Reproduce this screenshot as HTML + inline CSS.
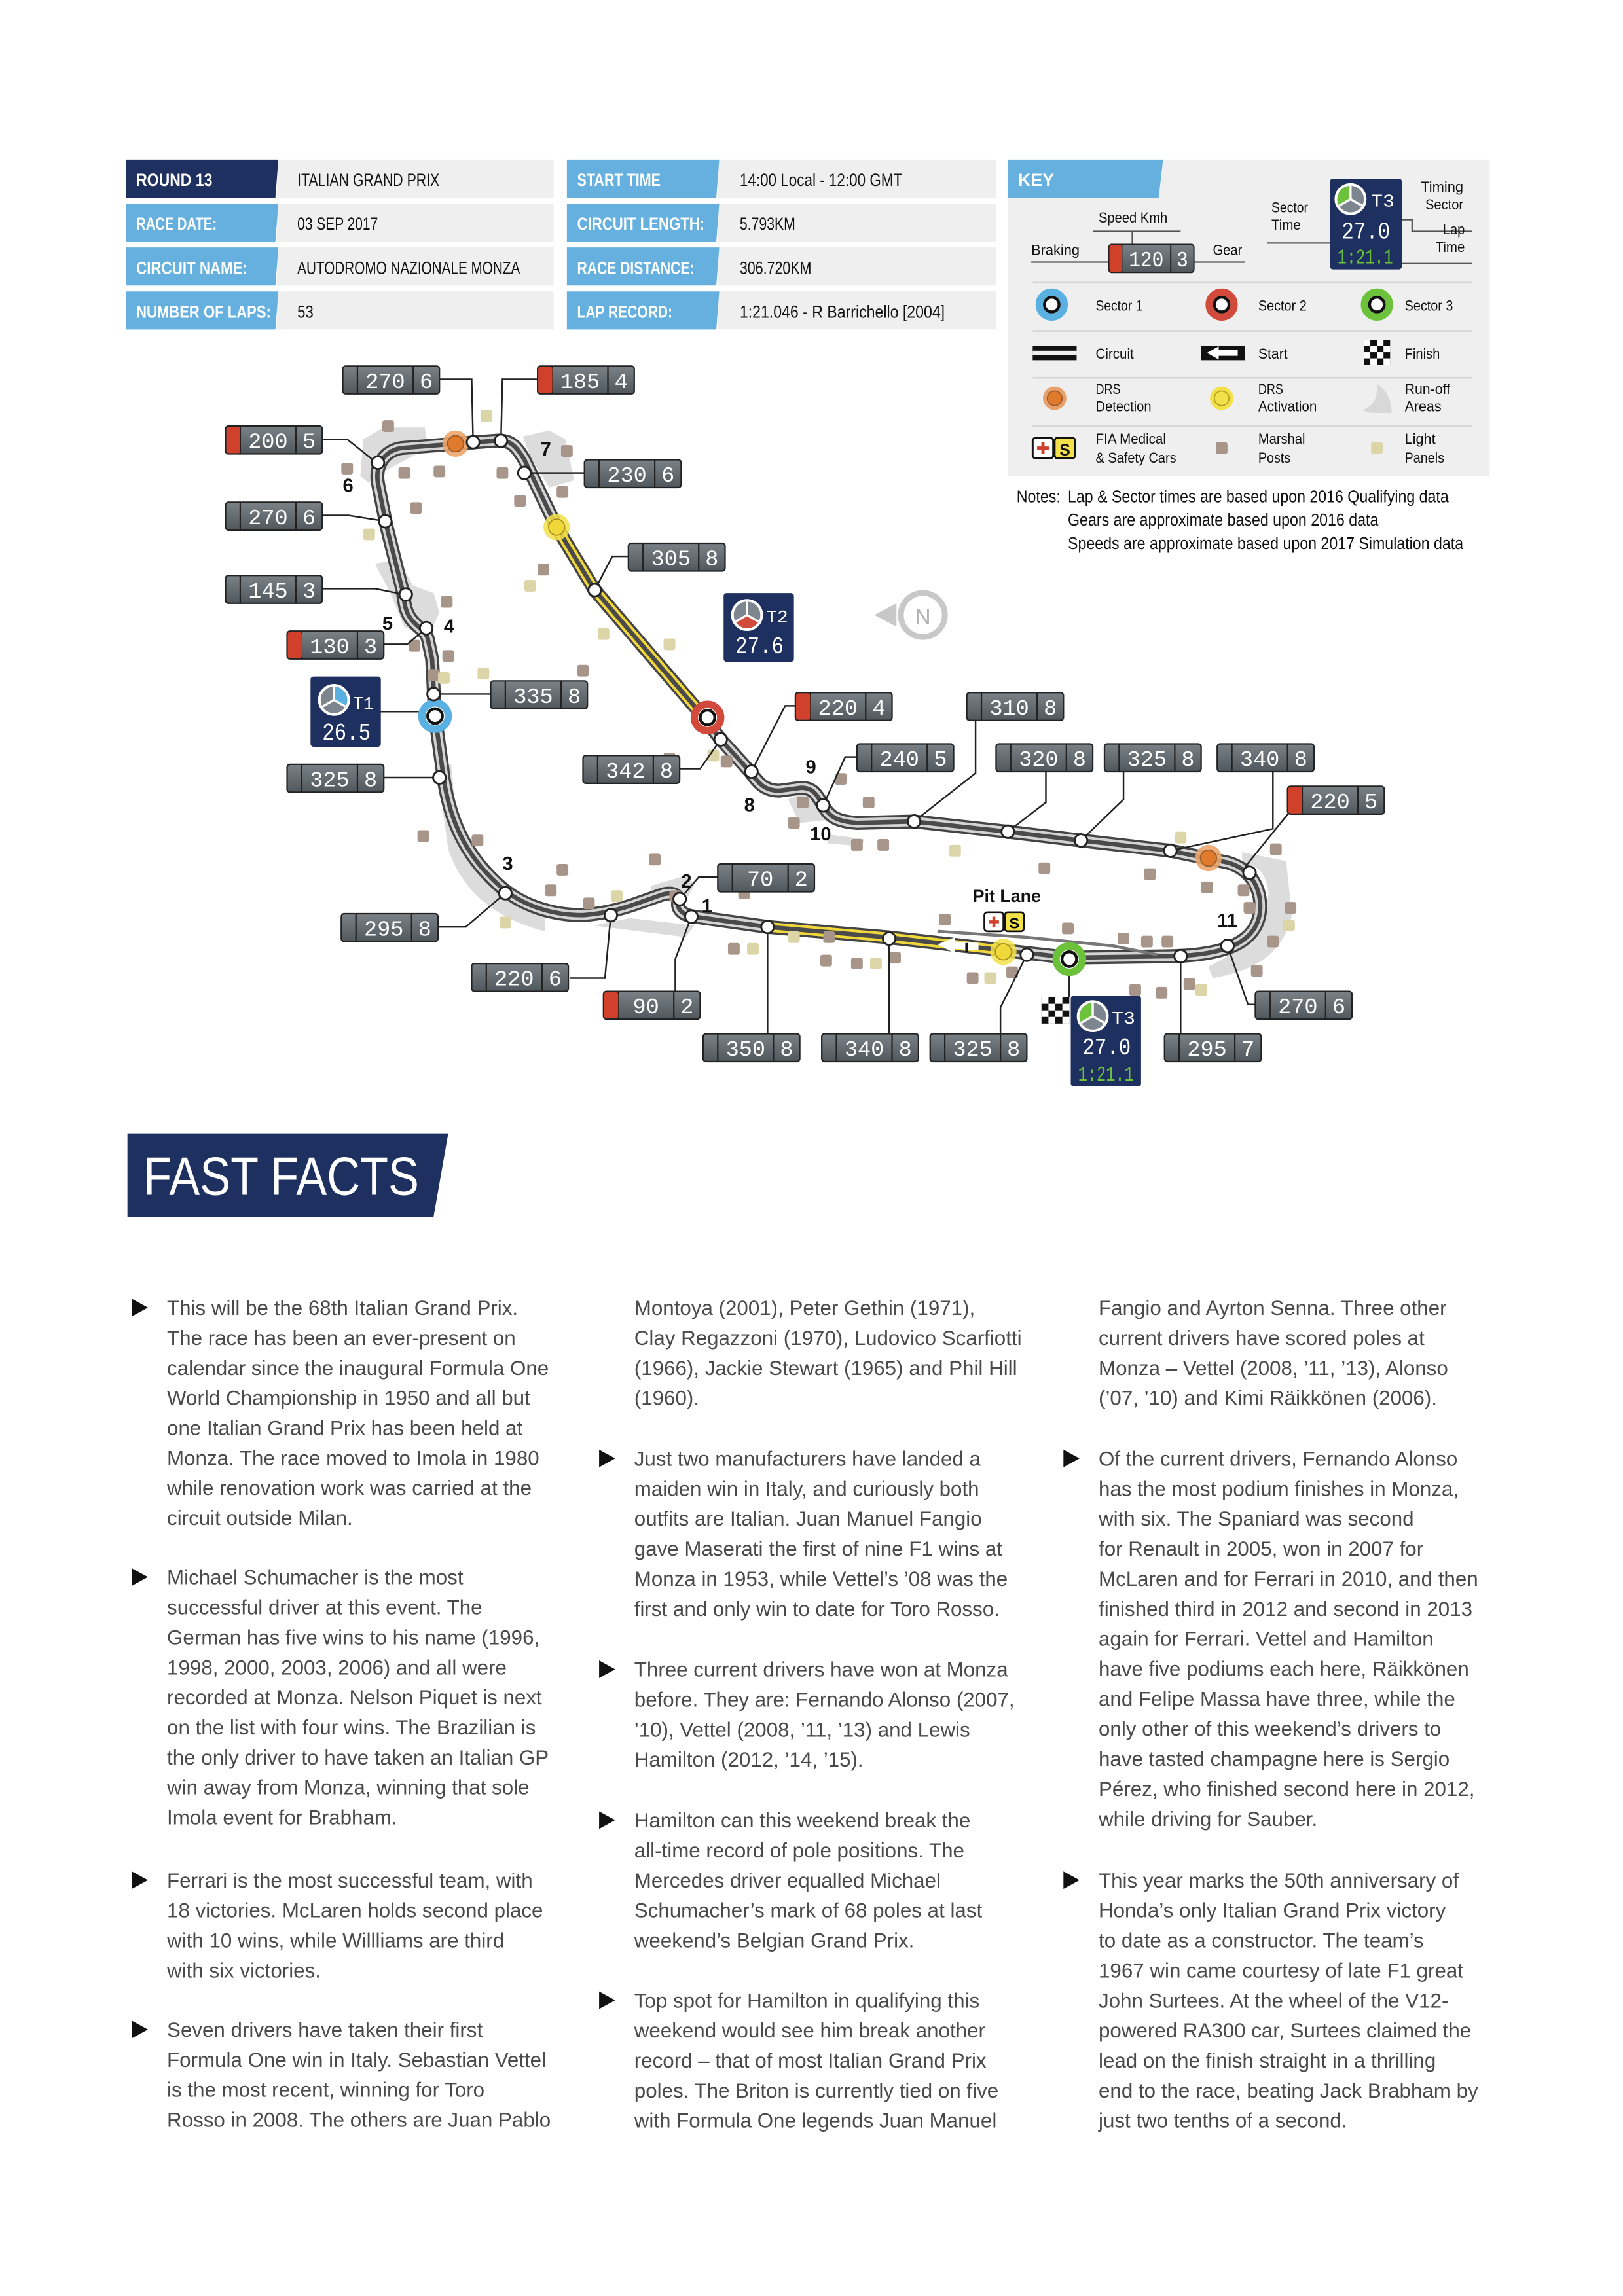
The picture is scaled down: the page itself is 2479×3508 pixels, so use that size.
<!DOCTYPE html>
<html><head><meta charset="utf-8"><style>
html,body{margin:0;padding:0;background:#fff}
svg{display:block}
.c{font-family:"Liberation Sans",sans-serif}
.g{font-family:"Liberation Mono",monospace;fill:#fff;font-size:15px;text-anchor:middle}
.ff{font-family:"Liberation Sans",sans-serif;font-size:14px;fill:#4a4a4a}
.n{font-family:"Liberation Sans",sans-serif;font-weight:bold;font-size:13px;fill:#111}
</style></head><body>
<svg width="2479" height="3508" viewBox="0 0 1108 1568" preserveAspectRatio="none" xmlns="http://www.w3.org/2000/svg" xmlns:xlink="http://www.w3.org/1999/xlink">
<defs>
<linearGradient id="gg" x1="0" y1="0" x2="0" y2="1"><stop offset="0" stop-color="#7a8187"/><stop offset="1" stop-color="#50575d"/></linearGradient>
<g id="gb"><rect x="0" y="0" width="66" height="19" rx="2" fill="url(#gg)" stroke="#222" stroke-width="1"/><line x1="10" y1="0" x2="10" y2="19" stroke="#222"/><line x1="48" y1="0" x2="48" y2="19" stroke="#222"/></g>
<g id="rb"><rect x="0.5" y="0.5" width="9.5" height="18" rx="1.5" fill="#d0402a"/></g>
<g id="mk"><rect x="-4" y="-4" width="8" height="8" rx="1.5" fill="#a8958a"/></g>
<g id="lp"><rect x="-4" y="-4" width="8" height="8" rx="1.5" fill="#dcd5a8"/></g>
<g id="wn"><circle r="4.3" fill="#fff" stroke="#222" stroke-width="1.3"/></g>
</defs>

<!-- HEADER TABLE -->
<g class="c" font-size="12">
<rect x="189" y="109" width="189" height="26" fill="#efefef"/><rect x="189" y="139" width="189" height="26" fill="#efefef"/><rect x="189" y="169" width="189" height="26" fill="#efefef"/><rect x="189" y="199" width="189" height="26" fill="#efefef"/>
<rect x="490" y="109" width="190" height="26" fill="#efefef"/><rect x="490" y="139" width="190" height="26" fill="#efefef"/><rect x="490" y="169" width="190" height="26" fill="#efefef"/><rect x="490" y="199" width="190" height="26" fill="#efefef"/>
<polygon points="86,109 190,109 188,135 86,135" fill="#1e3060"/>
<polygon points="86,139 190,139 188,165 86,165" fill="#65b0de"/>
<polygon points="86,169 190,169 188,195 86,195" fill="#65b0de"/>
<polygon points="86,199 190,199 188,225 86,225" fill="#65b0de"/>
<polygon points="387,109 491,109 489,135 387,135" fill="#65b0de"/>
<polygon points="387,139 491,139 489,165 387,165" fill="#65b0de"/>
<polygon points="387,169 491,169 489,195 387,195" fill="#65b0de"/>
<polygon points="387,199 491,199 489,225 387,225" fill="#65b0de"/>
<g fill="#fff" font-weight="bold">
<text x="93" y="127" textLength="52" lengthAdjust="spacingAndGlyphs">ROUND 13</text><text x="93" y="157" textLength="55" lengthAdjust="spacingAndGlyphs">RACE DATE:</text><text x="93" y="187" textLength="76" lengthAdjust="spacingAndGlyphs">CIRCUIT NAME:</text><text x="93" y="217" textLength="92" lengthAdjust="spacingAndGlyphs">NUMBER OF LAPS:</text>
<text x="394" y="127" textLength="57" lengthAdjust="spacingAndGlyphs">START TIME</text><text x="394" y="157" textLength="87" lengthAdjust="spacingAndGlyphs">CIRCUIT LENGTH:</text><text x="394" y="187" textLength="80" lengthAdjust="spacingAndGlyphs">RACE DISTANCE:</text><text x="394" y="217" textLength="65" lengthAdjust="spacingAndGlyphs">LAP RECORD:</text>
</g>
<g fill="#111">
<text x="203" y="127" textLength="97" lengthAdjust="spacingAndGlyphs">ITALIAN GRAND PRIX</text><text x="203" y="157" textLength="55" lengthAdjust="spacingAndGlyphs">03 SEP 2017</text><text x="203" y="187" textLength="152" lengthAdjust="spacingAndGlyphs">AUTODROMO NAZIONALE MONZA</text><text x="203" y="217" textLength="11" lengthAdjust="spacingAndGlyphs">53</text>
<text x="505" y="127" textLength="111" lengthAdjust="spacingAndGlyphs">14:00 Local - 12:00 GMT</text><text x="505" y="157" textLength="38" lengthAdjust="spacingAndGlyphs">5.793KM</text><text x="505" y="187" textLength="49" lengthAdjust="spacingAndGlyphs">306.720KM</text><text x="505" y="217" textLength="140" lengthAdjust="spacingAndGlyphs">1:21.046 - R Barrichello [2004]</text>
</g>
</g>

<!-- KEY -->
<g class="c" font-size="10" fill="#111">
<rect x="688" y="109" width="329" height="216" fill="#efefef"/>
<polygon points="688,109 794,109 791,135 688,135" fill="#65b0de"/>
<text x="695" y="127" fill="#fff" font-weight="bold" font-size="12">KEY</text>
<text x="750" y="152" textLength="47" lengthAdjust="spacingAndGlyphs">Speed Kmh</text>
<polyline points="746,158 806,158" stroke="#555" fill="none"/><line x1="773" y1="158" x2="773" y2="167" stroke="#555"/>
<text x="704" y="174" textLength="33" lengthAdjust="spacingAndGlyphs">Braking</text><line x1="704" y1="179" x2="757" y2="179" stroke="#555"/>
<text x="828" y="174" textLength="20" lengthAdjust="spacingAndGlyphs">Gear</text><line x1="815" y1="179" x2="850" y2="179" stroke="#555"/>
<g transform="translate(757,167) scale(0.88,1)"><use href="#gb"/><use href="#rb"/><text class="g" x="29" y="15">120</text><text class="g" x="57" y="15">3</text></g>
<text x="868" y="145" textLength="25" lengthAdjust="spacingAndGlyphs">Sector</text><text x="868" y="157" textLength="20" lengthAdjust="spacingAndGlyphs">Time</text><line x1="865" y1="166" x2="908" y2="166" stroke="#555"/>
<rect x="908" y="122" width="49" height="62" rx="2" fill="#1e3060"/>
<g transform="translate(922,136)"><circle r="10" fill="#7d868e" stroke="#fff" stroke-width="1.8"/><path d="M0,0 L0,-9 A9,9 0 0,0 -7.8,4.5 Z" fill="#6cc23a"/><path d="M0,0 L0,-9 M0,0 L7.8,4.5 M0,0 L-7.8,4.5" stroke="#fff" stroke-width="1.5"/></g>
<text x="936" y="141" fill="#fff" font-size="12" font-family="Liberation Mono" textLength="16" lengthAdjust="spacingAndGlyphs">T3</text>
<text x="916" y="163" fill="#fff" font-size="16" font-family="Liberation Mono" textLength="33" lengthAdjust="spacingAndGlyphs">27.0</text>
<text x="913" y="180" fill="#6cc23a" font-size="14" font-family="Liberation Mono" textLength="38" lengthAdjust="spacingAndGlyphs">1:21.1</text>
<text x="970" y="131" textLength="29" lengthAdjust="spacingAndGlyphs">Timing</text><text x="973" y="143" textLength="26" lengthAdjust="spacingAndGlyphs">Sector</text><polyline points="957,150 964,150 964,158 1005,158" stroke="#555" fill="none"/>
<text x="985" y="160" textLength="15" lengthAdjust="spacingAndGlyphs">Lap</text><text x="980" y="172" textLength="20" lengthAdjust="spacingAndGlyphs">Time</text><line x1="957" y1="180" x2="1005" y2="180" stroke="#555"/>
<g stroke="#d6d6d6" stroke-width="1.2"><line x1="705" y1="193" x2="1005" y2="193"/><line x1="705" y1="226" x2="1005" y2="226"/><line x1="705" y1="258" x2="1005" y2="258"/><line x1="705" y1="291" x2="1005" y2="291"/></g>
<circle cx="718" cy="208" r="8.5" fill="#fff" stroke="#5ab0e0" stroke-width="5"/><circle cx="718" cy="208" r="5" fill="#fff" stroke="#111" stroke-width="2"/>
<circle cx="834" cy="208" r="8.5" fill="#fff" stroke="#d24a3c" stroke-width="5"/><circle cx="834" cy="208" r="5" fill="#fff" stroke="#111" stroke-width="2"/>
<circle cx="940" cy="208" r="8.5" fill="#fff" stroke="#6cc23a" stroke-width="5"/><circle cx="940" cy="208" r="5" fill="#fff" stroke="#111" stroke-width="2"/>
<text x="748" y="212" textLength="32" lengthAdjust="spacingAndGlyphs">Sector 1</text><text x="859" y="212" textLength="33" lengthAdjust="spacingAndGlyphs">Sector 2</text><text x="959" y="212" textLength="33" lengthAdjust="spacingAndGlyphs">Sector 3</text>
<rect x="705" y="236" width="30" height="10" fill="#111"/><rect x="705" y="239.5" width="30" height="3" fill="#eee"/>
<rect x="820" y="236" width="30" height="10" fill="#111"/><polygon points="824,241 832,236.5 832,239 845,239 845,243 832,243 832,245.5" fill="#fff"/>
<g><rect x="931" y="232" width="18" height="17" fill="#111"/>
<g fill="#fff"><rect x="931" y="232" width="4.5" height="4.25"/><rect x="940" y="232" width="4.5" height="4.25"/><rect x="935.5" y="236.25" width="4.5" height="4.25"/><rect x="944.5" y="236.25" width="4.5" height="4.25"/><rect x="931" y="240.5" width="4.5" height="4.25"/><rect x="940" y="240.5" width="4.5" height="4.25"/><rect x="935.5" y="244.75" width="4.5" height="4.25"/><rect x="944.5" y="244.75" width="4.5" height="4.25"/></g></g>
<text x="748" y="245" textLength="26" lengthAdjust="spacingAndGlyphs">Circuit</text><text x="859" y="245" textLength="20" lengthAdjust="spacingAndGlyphs">Start</text><text x="959" y="245" textLength="24" lengthAdjust="spacingAndGlyphs">Finish</text>
<circle cx="720" cy="272" r="8" fill="#e7a06a"/><circle cx="720" cy="272" r="5" fill="#e07a2c" stroke="#9a5a2a" stroke-width="0.8"/>
<circle cx="834" cy="272" r="8" fill="#f3e14a"/><circle cx="834" cy="272" r="5" fill="#f3e14a" stroke="#b5a020" stroke-width="0.8"/>
<path d="M935,282 L950,282 C950,272 946,266 940,262 C941,272 937,278 930,280 Z" fill="#d8d8d8"/>
<text x="748" y="269" textLength="17" lengthAdjust="spacingAndGlyphs">DRS</text><text x="748" y="281" textLength="38" lengthAdjust="spacingAndGlyphs">Detection</text>
<text x="859" y="269" textLength="17" lengthAdjust="spacingAndGlyphs">DRS</text><text x="859" y="281" textLength="40" lengthAdjust="spacingAndGlyphs">Activation</text>
<text x="959" y="269" textLength="31" lengthAdjust="spacingAndGlyphs">Run-off</text><text x="959" y="281" textLength="25" lengthAdjust="spacingAndGlyphs">Areas</text>
<rect x="705" y="299" width="14" height="14" rx="2" fill="#fff" stroke="#111" stroke-width="1.3"/><path d="M712,302 v8 M708,306 h8" stroke="#d0402a" stroke-width="2.2"/>
<rect x="720" y="299" width="14" height="14" rx="2" fill="#f3e14a" stroke="#111" stroke-width="1.3"/><text x="727" y="311" text-anchor="middle" font-weight="bold" font-size="11">S</text>
<use href="#mk" x="834" y="306"/><use href="#lp" x="940" y="306"/>
<text x="748" y="303" textLength="48" lengthAdjust="spacingAndGlyphs">FIA Medical</text><text x="748" y="316" textLength="55" lengthAdjust="spacingAndGlyphs">&amp; Safety Cars</text>
<text x="859" y="303" textLength="32" lengthAdjust="spacingAndGlyphs">Marshal</text><text x="859" y="316" textLength="22" lengthAdjust="spacingAndGlyphs">Posts</text>
<text x="959" y="303" textLength="21" lengthAdjust="spacingAndGlyphs">Light</text><text x="959" y="316" textLength="27" lengthAdjust="spacingAndGlyphs">Panels</text>
<g font-size="11.5"><text x="694" y="343" textLength="30" lengthAdjust="spacingAndGlyphs">Notes:</text><text x="729" y="343" textLength="260" lengthAdjust="spacingAndGlyphs">Lap &amp; Sector times are based upon 2016 Qualifying data</text>
<text x="729" y="359" textLength="212" lengthAdjust="spacingAndGlyphs">Gears are approximate based upon 2016 data</text><text x="729" y="375" textLength="270" lengthAdjust="spacingAndGlyphs">Speeds are approximate based upon 2017 Simulation data</text></g>
</g>

<!-- RUN-OFF AREAS -->
<g fill="#dcdcdc">
<polygon points="248,300 262,292 290,292 292,306 262,322 252,330 246,325"/>
<polygon points="357,298 375,294 386,300 392,328 375,333 362,312"/>
<polygon points="256,385 272,382 282,400 296,405 300,418 292,436 276,428 266,404"/>
<path d="M298,522 L306,580 C316,610 340,628 372,636 L372,624 C345,612 326,596 312,565 L308,522 Z"/>
<polygon points="444,605 468,598 474,604 470,612 446,615"/>
<polygon points="405,632 468,640 474,632 430,627"/>
<polygon points="538,546 552,540 560,543 565,560 546,562"/>
<polygon points="566,570 590,573 588,578 565,576"/>
<path d="M848,582 L878,588 L882,625 C876,650 860,662 828,668 L825,660 C850,648 864,635 866,610 C864,595 858,590 848,590 Z"/>
</g>

<!-- TRACK -->
<path d="M800,653 L730,654 L685,649 L605,640 L524,633 L474,626 C466,625 462,621 463,616 C464,611 459,609 452,611 L432,618 C420,622 410,624 398,625 C378,625 356,619 340,604 C318,584 306,560 302,525 L297,489 L295,450 L292,436 C290,430 284,428 280,422 C276,416 276,410 275,404 L264,360 L258,330 C256,318 262,308 274,306 L312,303 L338,301 C348,300 352,304 358,314 L380,360 L406,403 L479,488 L492,505 L512,527 C518,535 522,540 532,540 L547,538 C556,538 558,544 562,550 C566,558 572,561 585,562 L624,561 L688,568 L738,574 L799,581 L838,589 C856,594 862,610 860,624 C857,642 840,652 800,653 Z" fill="none" stroke="#444" stroke-width="9.5" stroke-linejoin="round"/>
<path d="M800,653 L730,654 L685,649 L605,640 L524,633 L474,626 C466,625 462,621 463,616 C464,611 459,609 452,611 L432,618 C420,622 410,624 398,625 C378,625 356,619 340,604 C318,584 306,560 302,525 L297,489 L295,450 L292,436 C290,430 284,428 280,422 C276,416 276,410 275,404 L264,360 L258,330 C256,318 262,308 274,306 L312,303 L338,301 C348,300 352,304 358,314 L380,360 L406,403 L479,488 L492,505 L512,527 C518,535 522,540 532,540 L547,538 C556,538 558,544 562,550 C566,558 572,561 585,562 L624,561 L688,568 L738,574 L799,581 L838,589 C856,594 862,610 860,624 C857,642 840,652 800,653 Z" fill="none" stroke="#d4d4d4" stroke-width="6.5" stroke-linejoin="round"/>
<polyline points="380,360 406,403 479,488" fill="none" stroke="#f0d83a" stroke-width="6.5"/>
<polyline points="524,633 605,640 685,649" fill="none" stroke="#f0d83a" stroke-width="6.5"/>
<path d="M800,653 L730,654 L685,649 L605,640 L524,633 L474,626 C466,625 462,621 463,616 C464,611 459,609 452,611 L432,618 C420,622 410,624 398,625 C378,625 356,619 340,604 C318,584 306,560 302,525 L297,489 L295,450 L292,436 C290,430 284,428 280,422 C276,416 276,410 275,404 L264,360 L258,330 C256,318 262,308 274,306 L312,303 L338,301 C348,300 352,304 358,314 L380,360 L406,403 L479,488 L492,505 L512,527 C518,535 522,540 532,540 L547,538 C556,538 558,544 562,550 C566,558 572,561 585,562 L624,561 L688,568 L738,574 L799,581 L838,589 C856,594 862,610 860,624 C857,642 840,652 800,653 Z" fill="none" stroke="#4a4a4a" stroke-width="3" stroke-linejoin="round"/>
<polyline points="640,636 700,640 760,646 790,652" fill="none" stroke="#777" stroke-width="2"/>
<polygon points="640,645 652,640 652,643 668,644 668,649 652,648 652,651" fill="#fff"/>
<rect x="659" y="644" width="2" height="6" fill="#111"/>

<!-- marshal posts -->
<g>
<use href="#mk" x="265" y="291"/><use href="#mk" x="237" y="320"/><use href="#mk" x="276" y="323"/><use href="#mk" x="300" y="322"/><use href="#mk" x="343" y="323"/><use href="#mk" x="387" y="308"/><use href="#mk" x="284" y="347"/><use href="#mk" x="355" y="342"/><use href="#mk" x="384" y="336"/><use href="#mk" x="305" y="411"/><use href="#mk" x="283" y="441"/><use href="#mk" x="306" y="448"/><use href="#mk" x="296" y="461"/><use href="#mk" x="371" y="389"/><use href="#mk" x="398" y="458"/><use href="#mk" x="289" y="571"/><use href="#mk" x="326" y="574"/><use href="#mk" x="376" y="608"/><use href="#mk" x="384" y="594"/><use href="#mk" x="402" y="617"/><use href="#mk" x="461" y="612"/><use href="#mk" x="508" y="610"/><use href="#mk" x="447" y="587"/><use href="#mk" x="501" y="648"/><use href="#mk" x="564" y="656"/><use href="#mk" x="585" y="658"/><use href="#mk" x="645" y="628"/><use href="#mk" x="729" y="634"/><use href="#mk" x="767" y="641"/><use href="#mk" x="783" y="643"/><use href="#mk" x="797" y="643"/><use href="#mk" x="664" y="668"/><use href="#mk" x="691" y="664"/><use href="#mk" x="775" y="676"/><use href="#mk" x="793" y="678"/><use href="#mk" x="812" y="672"/><use href="#mk" x="871" y="580"/><use href="#mk" x="849" y="608"/><use href="#mk" x="853" y="620"/><use href="#mk" x="881" y="620"/><use href="#mk" x="869" y="643"/><use href="#mk" x="858" y="663"/><use href="#mk" x="548" y="548"/><use href="#mk" x="574" y="532"/><use href="#mk" x="593" y="548"/><use href="#mk" x="542" y="562"/><use href="#mk" x="585" y="577"/><use href="#mk" x="603" y="577"/><use href="#mk" x="713" y="593"/><use href="#mk" x="785" y="597"/><use href="#mk" x="824" y="606"/><use href="#mk" x="496" y="520"/><use href="#mk" x="457" y="518"/><use href="#mk" x="566" y="640"/><use href="#mk" x="611" y="654"/>
</g>
<g>
<use href="#lp" x="332" y="284"/><use href="#lp" x="252" y="365"/><use href="#lp" x="362" y="400"/><use href="#lp" x="412" y="433"/><use href="#lp" x="303" y="463"/><use href="#lp" x="345" y="630"/><use href="#lp" x="421" y="612"/><use href="#lp" x="514" y="648"/><use href="#lp" x="542" y="640"/><use href="#lp" x="652" y="581"/><use href="#lp" x="806" y="572"/><use href="#lp" x="880" y="632"/><use href="#lp" x="598" y="658"/><use href="#lp" x="676" y="668"/><use href="#lp" x="820" y="676"/><use href="#lp" x="457" y="440"/><use href="#lp" x="487" y="516"/><use href="#lp" x="330" y="460"/>
</g>

<!-- connectors -->
<g fill="none" stroke="#222" stroke-width="1.1">
<polyline points="300,259 322,259 323,302"/>
<polyline points="367,259 343,259 342,301"/>
<polyline points="220,300 237,300 257,316"/>
<polyline points="399,323 358,323"/>
<polyline points="220,352 238,352 263,356"/>
<polyline points="220,402 256,402 276,406"/>
<polyline points="262,440 278,440 291,429"/>
<polyline points="335,474 296,474"/>
<polyline points="259,486 296,486"/>
<polyline points="262,531 300,531"/>
<polyline points="429,380 418,380 406,403"/>
<polyline points="398,525 478,525 492,505"/>
<polyline points="543,482 536,482 513,527"/>
<polyline points="585,517 577,517 562,550"/>
<polyline points="666,492 666,528 624,561"/>
<polyline points="714,527 714,548 688,568"/>
<polyline points="767,527 767,546 738,574"/>
<polyline points="869,527 869,566 799,581"/>
<polyline points="880,555 850,592"/>
<polyline points="857,686 852,686 838,646"/>
<polyline points="806,706 806,653"/>
<polyline points="730,681 730,655"/>
<polyline points="683,706 683,688 701,652"/>
<polyline points="607,706 607,640"/>
<polyline points="524,706 524,633"/>
<polyline points="461,677 461,655 472,626"/>
<polyline points="490,599 477,599 465,613"/>
<polyline points="389,668 413,668 417,625"/>
<polyline points="299,633 318,633 345,610"/>
</g>

<!-- special circles -->
<circle cx="311" cy="303" r="9" fill="#eba56b" opacity="0.9"/><circle cx="311" cy="303" r="5.5" fill="#e07a2c" stroke="#9a5a2a" stroke-width="0.8"/>
<circle cx="380" cy="360" r="9" fill="#f3e14a" opacity="0.85"/><circle cx="380" cy="360" r="5.5" fill="#f0d83a" stroke="#a89018" stroke-width="0.8"/>
<circle cx="825" cy="586" r="9" fill="#eba56b" opacity="0.9"/><circle cx="825" cy="586" r="5.5" fill="#e07a2c" stroke="#9a5a2a" stroke-width="0.8"/>
<circle cx="685" cy="650" r="9" fill="#f3e14a" opacity="0.85"/><circle cx="685" cy="650" r="5.5" fill="#f0d83a" stroke="#a89018" stroke-width="0.8"/>
<circle cx="297" cy="489" r="9" fill="#fff" stroke="#5ab0e0" stroke-width="5"/><circle cx="297" cy="489" r="5" fill="#fff" stroke="#111" stroke-width="2"/>
<circle cx="483" cy="490" r="9" fill="#fff" stroke="#d24a3c" stroke-width="5"/><circle cx="483" cy="490" r="5" fill="#fff" stroke="#111" stroke-width="2"/>
<circle cx="730" cy="655" r="9" fill="#fff" stroke="#6cc23a" stroke-width="5"/><circle cx="730" cy="655" r="5" fill="#fff" stroke="#111" stroke-width="2"/>

<!-- white nodes -->
<g>
<use href="#wn" x="323" y="302"/><use href="#wn" x="342" y="301"/><use href="#wn" x="258" y="316"/><use href="#wn" x="358" y="323"/><use href="#wn" x="263" y="356"/><use href="#wn" x="277" y="406"/><use href="#wn" x="291" y="429"/><use href="#wn" x="296" y="474"/><use href="#wn" x="300" y="531"/><use href="#wn" x="406" y="403"/><use href="#wn" x="492" y="505"/><use href="#wn" x="513" y="527"/><use href="#wn" x="562" y="550"/><use href="#wn" x="624" y="561"/><use href="#wn" x="688" y="568"/><use href="#wn" x="738" y="574"/><use href="#wn" x="799" y="581"/><use href="#wn" x="853" y="596"/><use href="#wn" x="838" y="646"/><use href="#wn" x="806" y="653"/><use href="#wn" x="701" y="652"/><use href="#wn" x="607" y="641"/><use href="#wn" x="524" y="633"/><use href="#wn" x="472" y="626"/><use href="#wn" x="464" y="614"/><use href="#wn" x="417" y="625"/><use href="#wn" x="345" y="610"/>
</g>

<!-- corner numbers -->
<g class="n"><text x="234" y="336">6</text><text x="369" y="311">7</text><text x="261" y="430">5</text><text x="303" y="432">4</text><text x="343" y="594">3</text><text x="465" y="606">2</text><text x="479" y="623">1</text><text x="508" y="554">8</text><text x="550" y="528">9</text><text x="553" y="574">10</text><text x="831" y="633">11</text>
<text x="664" y="616" font-size="12">Pit Lane</text></g>
<rect x="672" y="623" width="13" height="13" rx="2" fill="#fff" stroke="#111" stroke-width="1.2"/><path d="M678.5,626 v7 M675,629.5 h7" stroke="#d0402a" stroke-width="2"/>
<rect x="686" y="623" width="13" height="13" rx="2" fill="#f3e14a" stroke="#111" stroke-width="1.2"/><text x="692.5" y="634" text-anchor="middle" font-family="Liberation Sans" font-weight="bold" font-size="10.5">S</text>

<!-- compass -->
<g transform="translate(630,420)"><circle r="15" fill="#fff" stroke="#c8c8c8" stroke-width="4"/><text x="0" y="6" text-anchor="middle" font-family="Liberation Sans" font-size="15" fill="#b0b0b0">N</text><polygon points="-33,0 -18,-8 -18,8" fill="#c8c8c8"/></g>

<!-- timing boxes -->
<g>
<rect x="212" y="462" width="48" height="48" rx="2" fill="#1e3060"/>
<g transform="translate(228,478)"><circle r="10" fill="#7d868e" stroke="#fff" stroke-width="1.8"/><path d="M0,0 L0,-9 A9,9 0 0,1 7.8,4.5 Z" fill="#5ab0e0"/><path d="M0,0 L0,-9 M0,0 L7.8,4.5 M0,0 L-7.8,4.5" stroke="#fff" stroke-width="1.5"/></g>
<text x="241" y="484" fill="#fff" font-size="12" font-family="Liberation Mono" textLength="14" lengthAdjust="spacingAndGlyphs">T1</text>
<text x="220" y="505" fill="#fff" font-size="16" font-family="Liberation Mono" textLength="33" lengthAdjust="spacingAndGlyphs">26.5</text>

<rect x="494" y="405" width="48" height="47" rx="2" fill="#1e3060"/>
<g transform="translate(510,420)"><circle r="10" fill="#7d868e" stroke="#fff" stroke-width="1.8"/><path d="M0,0 L7.8,4.5 A9,9 0 0,1 -7.8,4.5 Z" fill="#d24a3c"/><path d="M0,0 L0,-9 M0,0 L7.8,4.5 M0,0 L-7.8,4.5" stroke="#fff" stroke-width="1.5"/></g>
<text x="523" y="425" fill="#fff" font-size="12" font-family="Liberation Mono" textLength="15" lengthAdjust="spacingAndGlyphs">T2</text>
<text x="502" y="446" fill="#fff" font-size="16" font-family="Liberation Mono" textLength="33" lengthAdjust="spacingAndGlyphs">27.6</text>

<rect x="731" y="680" width="48" height="62" rx="2" fill="#1e3060"/>
<g transform="translate(746,694)"><circle r="10" fill="#7d868e" stroke="#fff" stroke-width="1.8"/><path d="M0,0 L0,-9 A9,9 0 0,0 -7.8,4.5 Z" fill="#6cc23a"/><path d="M0,0 L0,-9 M0,0 L7.8,4.5 M0,0 L-7.8,4.5" stroke="#fff" stroke-width="1.5"/></g>
<text x="759" y="699" fill="#fff" font-size="12" font-family="Liberation Mono" textLength="16" lengthAdjust="spacingAndGlyphs">T3</text>
<text x="739" y="720" fill="#fff" font-size="16" font-family="Liberation Mono" textLength="33" lengthAdjust="spacingAndGlyphs">27.0</text>
<text x="736" y="738" fill="#6cc23a" font-size="14" font-family="Liberation Mono" textLength="38" lengthAdjust="spacingAndGlyphs">1:21.1</text>
<rect x="711" y="681" width="19" height="18" fill="#111"/>
<g fill="#fff"><rect x="711" y="681" width="4.75" height="4.5"/><rect x="720.5" y="681" width="4.75" height="4.5"/><rect x="715.75" y="685.5" width="4.75" height="4.5"/><rect x="725.25" y="685.5" width="4.75" height="4.5"/><rect x="711" y="690" width="4.75" height="4.5"/><rect x="720.5" y="690" width="4.75" height="4.5"/><rect x="715.75" y="694.5" width="4.75" height="4.5"/><rect x="725.25" y="694.5" width="4.75" height="4.5"/></g>
</g>

<!-- gauges -->
<g>
<g transform="translate(234,250)"><use href="#gb"/><text class="g" x="29" y="15">270</text><text class="g" x="57" y="15">6</text></g>
<g transform="translate(367,250)"><use href="#gb"/><use href="#rb"/><text class="g" x="29" y="15">185</text><text class="g" x="57" y="15">4</text></g>
<g transform="translate(154,291)"><use href="#gb"/><use href="#rb"/><text class="g" x="29" y="15">200</text><text class="g" x="57" y="15">5</text></g>
<g transform="translate(399,314)"><use href="#gb"/><text class="g" x="29" y="15">230</text><text class="g" x="57" y="15">6</text></g>
<g transform="translate(154,343)"><use href="#gb"/><text class="g" x="29" y="15">270</text><text class="g" x="57" y="15">6</text></g>
<g transform="translate(429,371)"><use href="#gb"/><text class="g" x="29" y="15">305</text><text class="g" x="57" y="15">8</text></g>
<g transform="translate(154,393)"><use href="#gb"/><text class="g" x="29" y="15">145</text><text class="g" x="57" y="15">3</text></g>
<g transform="translate(196,431)"><use href="#gb"/><use href="#rb"/><text class="g" x="29" y="15">130</text><text class="g" x="57" y="15">3</text></g>
<g transform="translate(335,465)"><use href="#gb"/><text class="g" x="29" y="15">335</text><text class="g" x="57" y="15">8</text></g>
<g transform="translate(196,522)"><use href="#gb"/><text class="g" x="29" y="15">325</text><text class="g" x="57" y="15">8</text></g>
<g transform="translate(398,516)"><use href="#gb"/><text class="g" x="29" y="15">342</text><text class="g" x="57" y="15">8</text></g>
<g transform="translate(543,473)"><use href="#gb"/><use href="#rb"/><text class="g" x="29" y="15">220</text><text class="g" x="57" y="15">4</text></g>
<g transform="translate(660,473)"><use href="#gb"/><text class="g" x="29" y="15">310</text><text class="g" x="57" y="15">8</text></g>
<g transform="translate(585,508)"><use href="#gb"/><text class="g" x="29" y="15">240</text><text class="g" x="57" y="15">5</text></g>
<g transform="translate(680,508)"><use href="#gb"/><text class="g" x="29" y="15">320</text><text class="g" x="57" y="15">8</text></g>
<g transform="translate(754,508)"><use href="#gb"/><text class="g" x="29" y="15">325</text><text class="g" x="57" y="15">8</text></g>
<g transform="translate(831,508)"><use href="#gb"/><text class="g" x="29" y="15">340</text><text class="g" x="57" y="15">8</text></g>
<g transform="translate(879,537)"><use href="#gb"/><use href="#rb"/><text class="g" x="29" y="15">220</text><text class="g" x="57" y="15">5</text></g>
<g transform="translate(233,624)"><use href="#gb"/><text class="g" x="29" y="15">295</text><text class="g" x="57" y="15">8</text></g>
<g transform="translate(322,658)"><use href="#gb"/><text class="g" x="29" y="15">220</text><text class="g" x="57" y="15">6</text></g>
<g transform="translate(490,590)"><use href="#gb"/><text class="g" x="29" y="15">70</text><text class="g" x="57" y="15">2</text></g>
<g transform="translate(412,677)"><use href="#gb"/><use href="#rb"/><text class="g" x="29" y="15">90</text><text class="g" x="57" y="15">2</text></g>
<g transform="translate(480,706)"><use href="#gb"/><text class="g" x="29" y="15">350</text><text class="g" x="57" y="15">8</text></g>
<g transform="translate(561,706)"><use href="#gb"/><text class="g" x="29" y="15">340</text><text class="g" x="57" y="15">8</text></g>
<g transform="translate(635,706)"><use href="#gb"/><text class="g" x="29" y="15">325</text><text class="g" x="57" y="15">8</text></g>
<g transform="translate(857,677)"><use href="#gb"/><text class="g" x="29" y="15">270</text><text class="g" x="57" y="15">6</text></g>
<g transform="translate(795,706)"><use href="#gb"/><text class="g" x="29" y="15">295</text><text class="g" x="57" y="15">7</text></g>
</g>

<!-- FAST FACTS -->
<polygon points="87,774 306,774 296,831 87,831" fill="#1e3060"/>
<text x="98" y="816" fill="#fff" font-family="Liberation Sans" font-size="37" textLength="188" lengthAdjust="spacingAndGlyphs">FAST FACTS</text>

<g class="ff">
<polygon points="90,887 101,893 90,899" fill="#111"/>
<polygon points="90,1071 101,1077 90,1083" fill="#111"/>
<polygon points="90,1278 101,1284 90,1290" fill="#111"/>
<polygon points="90,1380 101,1386 90,1392" fill="#111"/>
<polygon points="409,990 420,996 409,1002" fill="#111"/>
<polygon points="409,1134 420,1140 409,1146" fill="#111"/>
<polygon points="409,1237 420,1243 409,1249" fill="#111"/>
<polygon points="409,1360 420,1366 409,1372" fill="#111"/>
<polygon points="726,990 737,996 726,1002" fill="#111"/>
<polygon points="726,1278 737,1284 726,1290" fill="#111"/>

<text x="114" y="898">This will be the 68th Italian Grand Prix.</text>
<text x="114" y="918.5">The race has been an ever-present on</text>
<text x="114" y="939">calendar since the inaugural Formula One</text>
<text x="114" y="959.5">World Championship in 1950 and all but</text>
<text x="114" y="980">one Italian Grand Prix has been held at</text>
<text x="114" y="1000.5">Monza. The race moved to Imola in 1980</text>
<text x="114" y="1021">while renovation work was carried at the</text>
<text x="114" y="1041.5">circuit outside Milan.</text>
<text x="114" y="1082">Michael Schumacher is the most</text>
<text x="114" y="1102.5">successful driver at this event. The</text>
<text x="114" y="1123">German has five wins to his name (1996,</text>
<text x="114" y="1143.5">1998, 2000, 2003, 2006) and all were</text>
<text x="114" y="1164">recorded at Monza. Nelson Piquet is next</text>
<text x="114" y="1184.5">on the list with four wins. The Brazilian is</text>
<text x="114" y="1205">the only driver to have taken an Italian GP</text>
<text x="114" y="1225.5">win away from Monza, winning that sole</text>
<text x="114" y="1246">Imola event for Brabham.</text>
<text x="114" y="1289">Ferrari is the most successful team, with</text>
<text x="114" y="1309.5">18 victories. McLaren holds second place</text>
<text x="114" y="1330">with 10 wins, while Willliams are third</text>
<text x="114" y="1350.5">with six victories.</text>
<text x="114" y="1391">Seven drivers have taken their first</text>
<text x="114" y="1411.5">Formula One win in Italy. Sebastian Vettel</text>
<text x="114" y="1432">is the most recent, winning for Toro</text>
<text x="114" y="1452.5">Rosso in 2008. The others are Juan Pablo</text>

<text x="433" y="898">Montoya (2001), Peter Gethin (1971),</text>
<text x="433" y="918.5">Clay Regazzoni (1970), Ludovico Scarfiotti</text>
<text x="433" y="939">(1966), Jackie Stewart (1965) and Phil Hill</text>
<text x="433" y="959.5">(1960).</text>
<text x="433" y="1001">Just two manufacturers have landed a</text>
<text x="433" y="1021.5">maiden win in Italy, and curiously both</text>
<text x="433" y="1042">outfits are Italian. Juan Manuel Fangio</text>
<text x="433" y="1062.5">gave Maserati the first of nine F1 wins at</text>
<text x="433" y="1083">Monza in 1953, while Vettel’s ’08 was the</text>
<text x="433" y="1103.5">first and only win to date for Toro Rosso.</text>
<text x="433" y="1145">Three current drivers have won at Monza</text>
<text x="433" y="1165.5">before. They are: Fernando Alonso (2007,</text>
<text x="433" y="1186">’10), Vettel (2008, ’11, ’13) and Lewis</text>
<text x="433" y="1206.5">Hamilton (2012, ’14, ’15).</text>
<text x="433" y="1248">Hamilton can this weekend break the</text>
<text x="433" y="1268.5">all-time record of pole positions. The</text>
<text x="433" y="1289">Mercedes driver equalled Michael</text>
<text x="433" y="1309.5">Schumacher’s mark of 68 poles at last</text>
<text x="433" y="1330">weekend’s Belgian Grand Prix.</text>
<text x="433" y="1371">Top spot for Hamilton in qualifying this</text>
<text x="433" y="1391.5">weekend would see him break another</text>
<text x="433" y="1412">record – that of most Italian Grand Prix</text>
<text x="433" y="1432.5">poles. The Briton is currently tied on five</text>
<text x="433" y="1453">with Formula One legends Juan Manuel</text>

<text x="750" y="898">Fangio and Ayrton Senna.  Three other</text>
<text x="750" y="918.5">current drivers have scored poles at</text>
<text x="750" y="939">Monza  – Vettel (2008, ’11, ’13), Alonso</text>
<text x="750" y="959.5">(’07, ’10) and Kimi Räikkönen (2006).</text>
<text x="750" y="1001">Of the current drivers, Fernando Alonso</text>
<text x="750" y="1021.5">has the most podium finishes in Monza,</text>
<text x="750" y="1042">with six. The Spaniard was second</text>
<text x="750" y="1062.5">for Renault in 2005, won in 2007 for</text>
<text x="750" y="1083">McLaren and for Ferrari in 2010, and then</text>
<text x="750" y="1103.5">finished third in 2012 and second in 2013</text>
<text x="750" y="1124">again for Ferrari. Vettel and Hamilton</text>
<text x="750" y="1144.5">have five podiums each here, Räikkönen</text>
<text x="750" y="1165">and Felipe Massa have three, while the</text>
<text x="750" y="1185.5">only other of this weekend’s drivers to</text>
<text x="750" y="1206">have tasted champagne here is Sergio</text>
<text x="750" y="1226.5">Pérez, who finished second here in 2012,</text>
<text x="750" y="1247">while driving for Sauber.</text>
<text x="750" y="1289">This year marks the 50th anniversary of</text>
<text x="750" y="1309.5">Honda’s only Italian Grand Prix victory</text>
<text x="750" y="1330">to date as a constructor. The team’s</text>
<text x="750" y="1350.5">1967 win came courtesy of late F1 great</text>
<text x="750" y="1371">John Surtees. At the wheel of the V12-</text>
<text x="750" y="1391.5">powered RA300 car, Surtees claimed the</text>
<text x="750" y="1412">lead on the finish straight in a thrilling</text>
<text x="750" y="1432.5">end to the race, beating Jack Brabham by</text>
<text x="750" y="1453">just two tenths of a second.</text>
</g>
</svg>
</body></html>
